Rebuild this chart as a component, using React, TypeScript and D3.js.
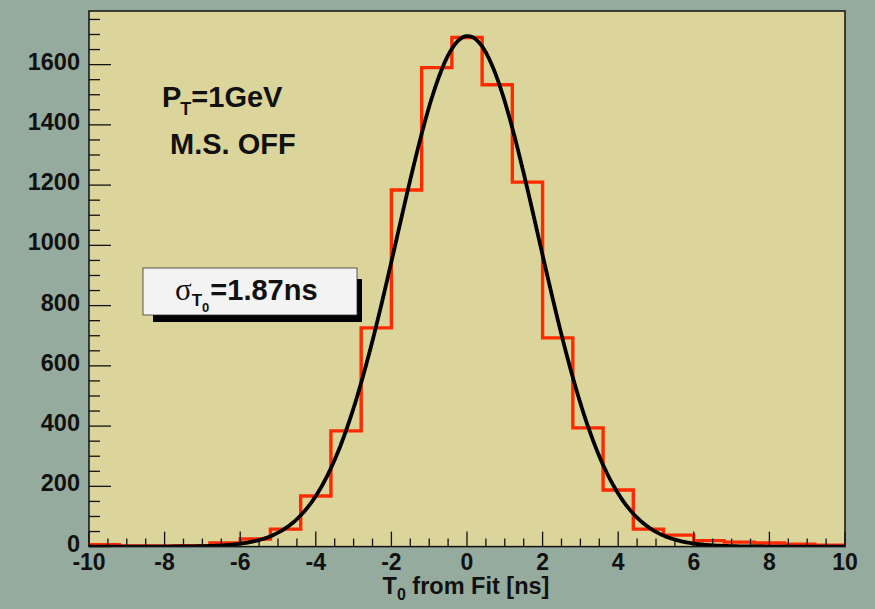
import React, { useEffect, useRef } from "react";
import * as d3 from "d3";

// histogram: 25 bins of 0.8 ns between -10 and 10
const binEdgesRange = [-10, 10];
const binCounts = [6, 2, 2, 3, 12, 25, 58, 168, 384, 726, 1184, 1590, 1690, 1533, 1210, 693, 394, 188, 58, 38, 20, 15, 12, 8, 5];

// gaussian fit parameters
const fitConstant = 1695;
const fitMean = 0.02;
const fitSigma = 1.87;

const xTicks = [-10, -8, -6, -4, -2, 0, 2, 4, 6, 8, 10];
const yTicks = [0, 200, 400, 600, 800, 1000, 1200, 1400, 1600];

const FONT = "'Liberation Sans', Arial, Helvetica, sans-serif";

const App = () => {
    const ref = useRef<SVGSVGElement | null>(null);

    useEffect(() => {
        const svg = d3.select(ref.current);
        svg.selectAll("*").remove();

        const width = 875;
        const height = 609;
        const left = 89, right = 845, top = 11, bottom = 546.6;

        const x = d3.scaleLinear().domain(binEdgesRange).range([left, right]);
        const y = d3.scaleLinear().domain([0, 1778]).range([bottom, top]);

        svg.append("rect").attr("width", width).attr("height", height).attr("fill", "#94ab9e");
        svg.append("rect")
            .attr("x", left).attr("y", top)
            .attr("width", right - left).attr("height", bottom - top)
            .attr("fill", "#dcd59b");

        svg.append("clipPath").attr("id", "plotclip")
            .append("rect")
            .attr("x", left).attr("y", top - 2)
            .attr("width", right - left).attr("height", bottom - top + 2);

        // histogram steps
        const nb = binCounts.length;
        const bw = (binEdgesRange[1] - binEdgesRange[0]) / nb;
        const path = d3.path();
        binCounts.forEach((c, i) => {
            const x0 = x(binEdgesRange[0] + i * bw);
            const x1 = x(binEdgesRange[0] + (i + 1) * bw);
            if (i === 0) path.moveTo(x0, y(c));
            else path.lineTo(x0, y(c));
            path.lineTo(x1, y(c));
        });
        svg.append("path")
            .attr("d", path.toString())
            .attr("fill", "none")
            .attr("stroke", "#ff2a00")
            .attr("stroke-width", 3.4)
            .attr("clip-path", "url(#plotclip)");

        // fit curve
        const pts = d3.range(0, 401).map(i => {
            const v = binEdgesRange[0] + (i / 400) * (binEdgesRange[1] - binEdgesRange[0]);
            return [v, fitConstant * Math.exp(-0.5 * ((v - fitMean) / fitSigma) ** 2)] as [number, number];
        });
        svg.append("path")
            .attr("d", d3.line().x(d => x(d[0])).y(d => y(d[1])).curve(d3.curveLinear)(pts))
            .attr("fill", "none")
            .attr("stroke", "#000")
            .attr("stroke-width", 3.8)
            .attr("clip-path", "url(#plotclip)");

        // frame
        svg.append("rect")
            .attr("x", left).attr("y", top)
            .attr("width", right - left).attr("height", bottom - top)
            .attr("fill", "none").attr("stroke", "#111").attr("stroke-width", 1.5);

        // x ticks
        const xMinor = d3.range(-10, 10.001, 0.5);
        svg.append("g").selectAll("line").data(xMinor).enter().append("line")
            .attr("x1", d => x(d)).attr("x2", d => x(d))
            .attr("y1", bottom)
            .attr("y2", d => bottom - (Math.abs(d % 2) < 1e-6 ? 15 : 8))
            .attr("stroke", "#111").attr("stroke-width", 1.3);
        svg.append("g").selectAll("text").data(xTicks).enter().append("text")
            .attr("x", d => x(d)).attr("y", 570)
            .attr("text-anchor", "middle")
            .style("font-family", FONT).style("font-weight", "bold").style("font-size", "23px")
            .attr("fill", "#111")
            .text(d => String(d));

        // y ticks
        const yMinor = d3.range(0, 1751, 50);
        svg.append("g").selectAll("line").data(yMinor).enter().append("line")
            .attr("y1", d => y(d)).attr("y2", d => y(d))
            .attr("x1", left)
            .attr("x2", d => left + (d % 200 === 0 ? 22 : 11))
            .attr("stroke", "#111").attr("stroke-width", 1.3);
        svg.append("g").selectAll("text").data(yTicks).enter().append("text")
            .attr("x", 80).attr("y", d => y(d) + 5)
            .attr("text-anchor", "end")
            .style("font-family", FONT).style("font-weight", "bold").style("font-size", "23.5px")
            .attr("fill", "#111")
            .text(d => String(d));

        // x title
        const title = svg.append("text")
            .attr("x", (left + right) / 2 - 1).attr("y", 594)
            .attr("text-anchor", "middle")
            .style("font-family", FONT).style("font-weight", "bold").style("font-size", "23.5px")
            .attr("fill", "#111");
        title.append("tspan").text("T");
        title.append("tspan").attr("dy", 6).style("font-size", "16px").text("0");
        title.append("tspan").attr("dy", -6).text(" from Fit [ns]");

        // annotations
        const pt = svg.append("text")
            .attr("x", 162).attr("y", 107)
            .style("font-family", FONT).style("font-weight", "bold").style("font-size", "29px")
            .attr("fill", "#111");
        pt.append("tspan").text("P");
        pt.append("tspan").attr("dy", 8).attr("dx", -1).style("font-size", "18px").text("T");
        pt.append("tspan").attr("dy", -8).text("=1GeV");

        svg.append("text")
            .attr("x", 170).attr("y", 154)
            .style("font-family", FONT).style("font-weight", "bold").style("font-size", "29px")
            .attr("fill", "#111")
            .text("M.S. OFF");

        // sigma box with shadow
        svg.append("rect")
            .attr("x", 153).attr("y", 279).attr("width", 209).attr("height", 43)
            .attr("fill", "#000");
        svg.append("rect")
            .attr("x", 143).attr("y", 268).attr("width", 214).attr("height", 47)
            .attr("fill", "#f3f3f3").attr("stroke", "#333").attr("stroke-width", 0.8);
        const sg = svg.append("text")
            .attr("x", 175).attr("y", 300)
            .style("font-family", FONT).style("font-weight", "bold").style("font-size", "29px")
            .attr("fill", "#111");
        sg.append("tspan").style("font-family", "'Liberation Serif', 'DejaVu Serif', serif").style("font-weight", "normal").style("font-size", "31px").text("σ");
        sg.append("tspan").attr("dy", 6).style("font-size", "17px").text("T");
        sg.append("tspan").attr("dy", 6).style("font-size", "13px").text("0");
        sg.append("tspan").attr("dy", -12).attr("dx", 1).text("=1.87ns");
    }, []);

    return (
        <div className="chart">
            <svg ref={ref} width={875} height={609} style={{ position: "absolute", left: 0, top: 0 }}></svg>
        </div>
    );
};

export default App;
